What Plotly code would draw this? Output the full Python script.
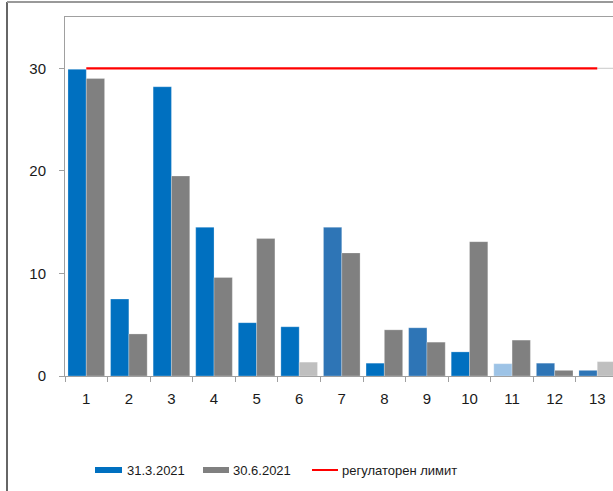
import plotly.graph_objects as go

# Categories and values
categories = [str(i) for i in range(1, 14)]
values_q1 = [29.9, 7.5, 28.2, 14.5, 5.2, 4.8, 14.5, 1.25, 4.7, 2.35, 1.2, 1.25, 0.55]
values_q2 = [29.0, 4.1, 19.5, 9.6, 13.4, 1.35, 12.0, 4.5, 3.3, 13.1, 3.5, 0.55, 1.4]
limit_values = [30] * 13

colors_q1 = ["#0070C0", "#0070C0", "#0070C0", "#0070C0", "#0070C0", "#0070C0",
             "#2E75B6", "#0070C0", "#2E75B6", "#0070C0", "#9DC3E6", "#2E75B6", "#2E75B6"]
colors_q2 = ["#808080", "#808080", "#808080", "#808080", "#808080", "#BFBFBF",
             "#808080", "#808080", "#808080", "#808080", "#808080", "#808080", "#BFBFBF"]

legend_labels = ["31.3.2021", "30.6.2021", "регулаторен лимит"]

W, H = 613, 491
L, T, B = 65, 17, 115
plot_w = W - L
plot_h = H - T - B
cat_w = 42.58


def px(x):
    return (x - L) / plot_w


def py(y):
    return (H - B - y) / plot_h


fig = go.Figure()
fig.add_trace(go.Bar(x=categories, y=values_q1, name=legend_labels[0],
                     marker=dict(color=colors_q1, line=dict(color="rgba(255,255,255,0.5)", width=0.5)),
                     showlegend=False))
fig.add_trace(go.Bar(x=categories, y=values_q2, name=legend_labels[1],
                     marker=dict(color=colors_q2, line=dict(color="rgba(255,255,255,0.5)", width=0.5)),
                     showlegend=False))
fig.add_trace(go.Scatter(x=categories, y=limit_values, name=legend_labels[2], mode="lines",
                         line=dict(color="#FF0000", width=2.2), showlegend=False))

shapes = [
    # outer frame
    dict(type="line", xref="paper", yref="paper", x0=px(7), x1=px(7), y0=py(2), y1=py(H),
         line=dict(color="#333333", width=1.5)),
    dict(type="line", xref="paper", yref="paper", x0=px(7), x1=1.0, y0=py(2), y1=py(2),
         line=dict(color="#999999", width=2)),
    # thin grey continuation of the limit line past the last category
    dict(type="line", xref="x", yref="y", x0=12, x1=12.6, y0=30, y1=30,
         line=dict(color="#C8C8C8", width=1), layer="below"),
    # legend swatches
    dict(type="rect", xref="paper", yref="paper", x0=px(95), x1=px(122), y0=py(467), y1=py(473),
         fillcolor="#0070C0", line=dict(width=0)),
    dict(type="rect", xref="paper", yref="paper", x0=px(203), x1=px(229), y0=py(467), y1=py(473),
         fillcolor="#808080", line=dict(width=0)),
    dict(type="line", xref="paper", yref="paper", x0=px(312), x1=px(338), y0=py(470), y1=py(470),
         line=dict(color="#FF0000", width=2)),
]

annotations = []
for label, xs in zip(legend_labels, [125, 231, 340]):
    annotations.append(dict(text=label, xref="paper", yref="paper", x=px(xs), y=py(470),
                            xanchor="left", yanchor="middle", showarrow=False,
                            font=dict(family="Liberation Sans", size=13, color="#1a1a1a")))

fig.update_layout(
    width=W, height=H,
    margin=dict(l=L, r=0, t=T, b=B),
    paper_bgcolor="white", plot_bgcolor="white",
    barmode="group", bargap=0.14, bargroupgap=0,
    font=dict(family="Liberation Sans", size=15, color="#1a1a1a"),
    shapes=shapes, annotations=annotations,
    xaxis=dict(type="category", range=[-0.5, -0.5 + plot_w / cat_w], tickson="boundaries",
               ticks="outside", ticklen=5, tickcolor="#A0A0A0", showline=True,
               linecolor="#A0A0A0", linewidth=1, mirror=True, showgrid=False,
               ticklabelstandoff=9, tickfont=dict(size=15)),
    yaxis=dict(range=[0, 35], tickvals=[0, 10, 20, 30], ticks="outside", ticklen=5,
               tickcolor="#A0A0A0", showline=True, linecolor="#A0A0A0", linewidth=1,
               showgrid=False, zeroline=False, ticklabelstandoff=10, tickfont=dict(size=15)),
)

fig.write_html("out.html")
